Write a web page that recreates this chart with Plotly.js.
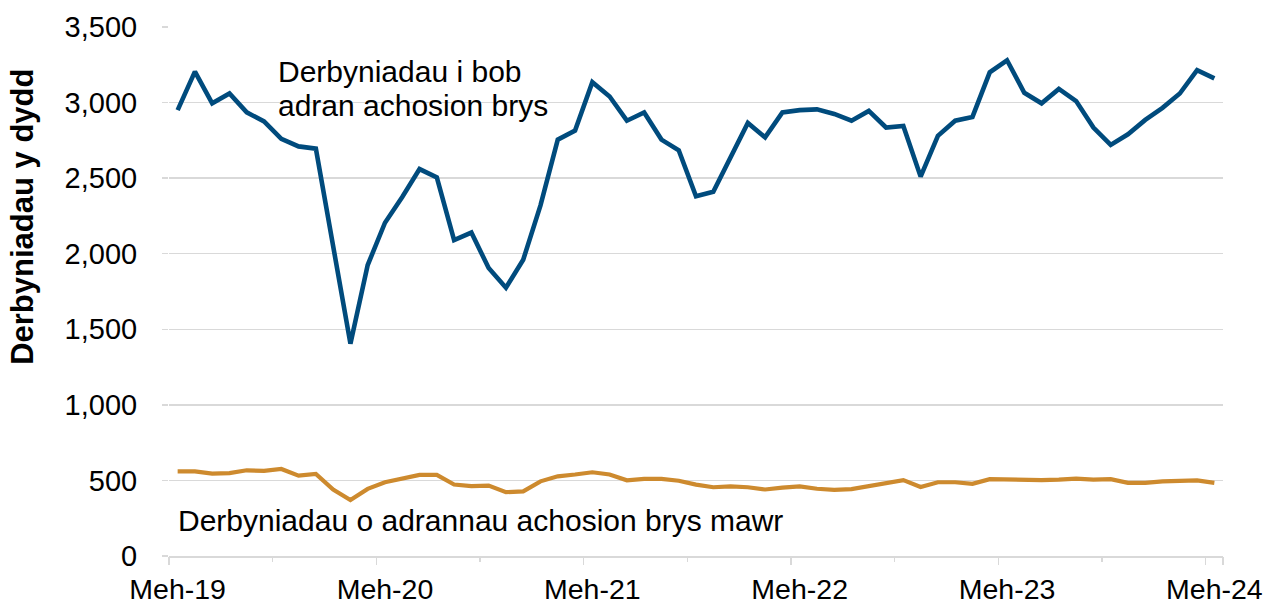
<!DOCTYPE html>
<html>
<head>
<meta charset="utf-8">
<script src="https://cdn.plot.ly/plotly-3.0.1.min.js"></script>
<style>html,body{margin:0;padding:0;background:#fff;}#chart{width:1275px;height:605px;}</style>
</head>
<body>
<div id="chart"></div>
<script>
// Month names (Welsh) used to build the monthly categories Jun 2019 - Jun 2024
const monthNames = ['Ion','Chwef','Maw','Ebr','Mai','Meh','Gorff','Awst','Medi','Hyd','Tach','Rhag'];
const categories = [];
for (let y = 2019; y <= 2024; y++) {
  for (let m = 0; m < 12; m++) {
    if (y === 2019 && m < 5) continue;
    if (y === 2024 && m > 5) continue;
    categories.push(monthNames[m] + '-' + String(y).slice(2));
  }
}
const tickLabels = ['Meh-19','Meh-20','Meh-21','Meh-22','Meh-23','Meh-24'];

// Admissions per day, all emergency departments
const allEDAdmissions = [
  2950, 3205, 2995, 3060, 2935, 2875, 2760, 2710, 2695, 2050,
  1405, 1925, 2205, 2375, 2560, 2505, 2090, 2140, 1905, 1775,
  1960, 2320, 2755, 2815, 3135, 3040, 2880, 2935, 2755, 2685,
  2380, 2410, 2630, 2865, 2770, 2935, 2950, 2955, 2925, 2880,
  2945, 2835, 2845, 2510, 2780, 2880, 2905, 3200, 3280, 3065,
  2995, 3090, 3010, 2835, 2720, 2790, 2885, 2965, 3060, 3215,
  3160
];
// Admissions per day, major emergency departments
const majorEDAdmissions = [
  560, 560, 545, 548, 567, 563, 576, 532, 543, 440,
  371, 444, 488, 510, 537, 537, 473, 462, 466, 422,
  428, 494, 527, 539, 554, 539, 501, 510, 510, 498,
  472, 455, 460, 455, 440, 452, 460, 445, 438, 442,
  462, 480, 502, 457, 488, 488, 477, 508, 505, 505,
  502, 505, 512, 505, 508, 484, 484, 494, 494, 500,
  484
];
const seriesLabels = ['Derbyniadau i bob', 'adran achosion brys', 'Derbyniadau o adrannau achosion brys mawr'];
const yTitle = 'Derbyniadau y dydd';

// tick boundaries between categories (yearly = long, half-year = short)
const yearBounds = [], halfBounds = [];
categories.forEach((c, i) => {
  if (c.startsWith('Meh-')) yearBounds.push(i - 0.5);
  if (c.startsWith('Rhag-')) halfBounds.push(i - 0.5);
});
yearBounds.push(categories.length - 0.5);

const W = 1275, H = 605;
const M = {l: 169, r: 52, t: 27, b: 48.5};
const pw = W - M.l - M.r, ph = H - M.t - M.b;
const px = x => (x - M.l) / pw;
const py = y => (H - M.b - y) / ph;

const font = 'Liberation Sans, Arial, sans-serif';
const grid = '#d9d9d9';

const traces = [
  {x: categories, y: allEDAdmissions, type: 'scatter', mode: 'lines',
   line: {color: '#004B7D', width: 4.6}, hoverinfo: 'skip', showlegend: false},
  {x: categories, y: majorEDAdmissions, type: 'scatter', mode: 'lines',
   line: {color: '#CD8A2E', width: 4.2}, hoverinfo: 'skip', showlegend: false},
  {x: [], y: [], xaxis: 'x2', type: 'scatter', mode: 'lines', showlegend: false, hoverinfo: 'skip'}
];

const layout = {
  width: W, height: H,
  margin: M,
  paper_bgcolor: '#fff', plot_bgcolor: '#fff',
  font: {family: font, color: '#000', size: 29},
  showlegend: false,
  xaxis: {
    type: 'category', range: [-0.5, categories.length - 0.5],
    tickmode: 'array', tickvals: tickLabels, ticktext: tickLabels,
    ticks: '', showgrid: false, zeroline: false,
    showline: true, linecolor: grid, linewidth: 1.5,
    tickfont: {family: font, size: 28.5, color: '#000'},
    ticklabelstandoff: 7, fixedrange: true
  },
  xaxis2: {
    type: 'linear', overlaying: 'x', anchor: 'y', side: 'bottom',
    range: [-0.5, categories.length - 0.5],
    tickmode: 'array', tickvals: yearBounds, ticks: 'outside', ticklen: 8,
    tickcolor: grid, tickwidth: 1.5, showticklabels: false,
    showgrid: false, zeroline: false, showline: false,
    minor: {tickmode: 'array', tickvals: halfBounds, ticks: 'outside', ticklen: 5, tickcolor: grid, tickwidth: 1.5, showgrid: false},
    fixedrange: true
  },
  yaxis: {
    range: [0, 3500], tickmode: 'linear', tick0: 0, dtick: 500,
    tickformat: ',d', showgrid: true, gridcolor: grid, gridwidth: 1.4,
    zeroline: false, showline: false,
    ticks: 'outside', ticklen: 6, tickcolor: grid, tickwidth: 1.4,
    tickfont: {family: font, size: 29, color: '#000'},
    ticklabelstandoff: 19, fixedrange: true
  },
  annotations: [
    {xref: 'paper', yref: 'paper', x: px(276), y: py(72), xanchor: 'left', yanchor: 'middle',
     text: seriesLabels[0], showarrow: false, font: {family: font, size: 30, color: '#000'}},
    {xref: 'paper', yref: 'paper', x: px(276), y: py(106), xanchor: 'left', yanchor: 'middle',
     text: seriesLabels[1], showarrow: false, font: {family: font, size: 30, color: '#000'}},
    {xref: 'paper', yref: 'paper', x: px(176), y: py(521), xanchor: 'left', yanchor: 'middle',
     text: seriesLabels[2], showarrow: false, font: {family: font, size: 30, color: '#000'}},
    {xref: 'paper', yref: 'paper', x: px(23), y: py(217), xanchor: 'center', yanchor: 'middle',
     text: '<b>' + yTitle + '</b>', textangle: -90, showarrow: false,
     font: {family: font, size: 31, color: '#000'}}
  ]
};

Plotly.newPlot('chart', traces, layout, {displayModeBar: false, staticPlot: true});
</script>
</body>
</html>
